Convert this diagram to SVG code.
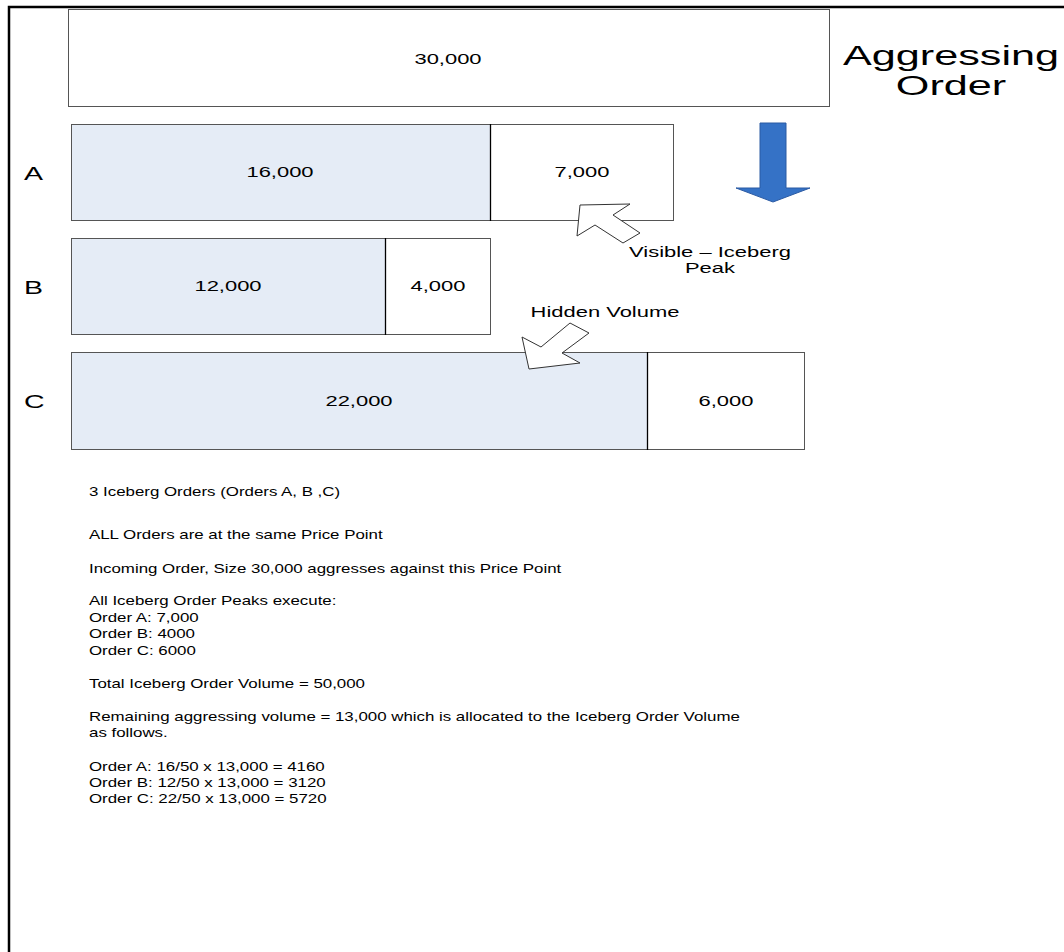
<svg xmlns="http://www.w3.org/2000/svg" width="1064" height="952" viewBox="0 0 1064 952">
<style>
.t{font-family:"Liberation Sans",Arial,sans-serif;font-size:14px;fill:#000}
.n{font-family:"Liberation Sans",Arial,sans-serif;font-size:13.5px;fill:#000}
.c{text-anchor:middle}
.box{fill:#fff;stroke:#555;stroke-width:1}
.ice{fill:#e5ecf6;stroke:#555;stroke-width:1}
.div{stroke:#000;stroke-width:1.3}
.call{fill:#fff;stroke:#333;stroke-width:1}
</style>
<rect width="1064" height="952" fill="#fff"/>
<path d="M9,952 V7 H1064" fill="none" stroke="#000" stroke-width="2.5"/>

<g id="aggressing">
<rect class="box" x="68.5" y="9.5" width="761" height="97"/>
<text class="t c" transform="translate(448,64) scale(1.57,1)">30,000</text>
<text class="t c" style="font-size:27px" transform="translate(951,65) scale(1.6,1)">Aggressing</text>
<text class="t c" style="font-size:27px" transform="translate(951,95) scale(1.6,1)">Order</text>
</g>

<g id="orderA">
<text class="t" style="font-size:19px" transform="translate(24,180) scale(1.5,1)">A</text>
<rect class="ice" x="71.5" y="124.5" width="419" height="96"/>
<rect class="box" x="490.5" y="124.5" width="183" height="96"/>
<line class="div" x1="490.5" y1="124" x2="490.5" y2="221"/>
<text class="t c" transform="translate(280,177) scale(1.57,1)">16,000</text>
<text class="t c" transform="translate(582,177) scale(1.57,1)">7,000</text>
</g>

<g id="orderB">
<text class="t" style="font-size:19px" transform="translate(24,294) scale(1.5,1)">B</text>
<rect class="ice" x="71.5" y="238.5" width="314" height="96"/>
<rect class="box" x="385.5" y="238.5" width="105" height="96"/>
<line class="div" x1="385.5" y1="238" x2="385.5" y2="335"/>
<text class="t c" transform="translate(228,291) scale(1.57,1)">12,000</text>
<text class="t c" transform="translate(438,291) scale(1.57,1)">4,000</text>
</g>

<g id="orderC">
<text class="t" style="font-size:19px" transform="translate(24,408) scale(1.5,1)">C</text>
<rect class="ice" x="71.5" y="352.5" width="576" height="97"/>
<rect class="box" x="647.5" y="352.5" width="157" height="97"/>
<line class="div" x1="647.5" y1="352" x2="647.5" y2="450"/>
<text class="t c" transform="translate(359,406) scale(1.57,1)">22,000</text>
<text class="t c" transform="translate(726,406) scale(1.57,1)">6,000</text>
</g>

<g id="connectors">
<polygon points="760,123 786,123 786,188 810,188 773,202 736,188 760,188" fill="#3572c6" stroke="#2b5aa3" stroke-width="1"/>
<polygon class="call" points="580,205 630,204 613,215 640,233 623,243 595,225 577,236"/>
<polygon class="call" points="529,369 522,337 541,347 570,323 589,333 562,353 580,363"/>
</g>

<g id="labels">
<text class="t c" transform="translate(710,257) scale(1.57,1)">Visible – Iceberg</text>
<text class="t c" transform="translate(710,273) scale(1.57,1)">Peak</text>
<text class="t c" transform="translate(605,317) scale(1.57,1)">Hidden Volume</text>
</g>

<g id="notes">
<text class="n" transform="translate(89,496) scale(1.25,1)">3 Iceberg Orders (Orders A, B ,C)</text>
<text class="n" transform="translate(89,539) scale(1.25,1)">ALL Orders are at the same Price Point</text>
<text class="n" transform="translate(89,573) scale(1.25,1)">Incoming Order, Size 30,000 aggresses against this Price Point</text>
<text class="n" transform="translate(89,605) scale(1.25,1)">All Iceberg Order Peaks execute:</text>
<text class="n" transform="translate(89,622) scale(1.25,1)">Order A: 7,000</text>
<text class="n" transform="translate(89,638) scale(1.25,1)">Order B: 4000</text>
<text class="n" transform="translate(89,655) scale(1.25,1)">Order C: 6000</text>
<text class="n" transform="translate(89,688) scale(1.25,1)">Total Iceberg Order Volume = 50,000</text>
<text class="n" transform="translate(89,721) scale(1.25,1)">Remaining aggressing volume = 13,000 which is allocated to the Iceberg Order Volume</text>
<text class="n" transform="translate(89,737) scale(1.25,1)">as follows.</text>
<text class="n" transform="translate(89,771) scale(1.25,1)">Order A: 16/50 x 13,000 = 4160</text>
<text class="n" transform="translate(89,787) scale(1.25,1)">Order B: 12/50 x 13,000 = 3120</text>
<text class="n" transform="translate(89,803) scale(1.25,1)">Order C: 22/50 x 13,000 = 5720</text>
</g>
</svg>
